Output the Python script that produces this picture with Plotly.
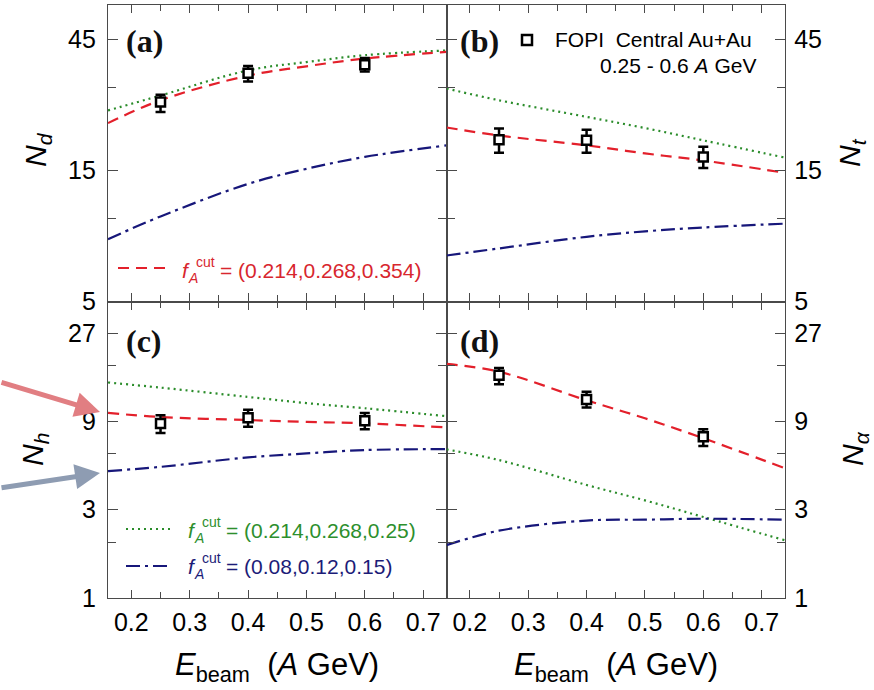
import plotly.graph_objects as go

# ---------------- data ----------------
E_curve = [0.16, 0.25, 0.4, 0.5, 0.6, 0.74]
E_data = [0.25, 0.4, 0.6]

# panel (a) deuterons
Nd_red = [22.3, 27.0, 33.2, 35.9, 38.3, 40.5]
Nd_green = [24.8, 28.1, 34.7, 37.2, 39.4, 41.0]
Nd_blue = [8.43, 10.2, 13.4, 15.2, 16.8, 18.5]
Nd_data = [26.6, 33.9, 36.4]
Nd_hi = [28.3, 36.0, 38.5]
Nd_lo = [24.5, 31.6, 34.4]

# panel (b) tritons
Nt_red = [21.5, 20.1, 18.5, 17.3, 16.3, 14.7]
Nt_green = [29.8, 27.0, 23.5, 21.4, 19.3, 16.7]
Nt_blue = [7.35, 7.8, 8.6, 9.0, 9.3, 9.6]
Nt_data = [19.4, 19.3, 16.8]
Nt_hi = [21.3, 21.1, 18.3]
Nt_lo = [17.4, 17.4, 15.3]

# panel (c) helions
Nh_red = [10.0, 9.5, 9.15, 8.95, 8.78, 8.35]
Nh_green = [14.6, 13.7, 12.2, 11.3, 10.6, 9.6]
Nh_blue = [4.85, 5.11, 5.75, 6.04, 6.30, 6.37]
Nh_data = [8.78, 9.42, 9.07]
Nh_hi = [9.72, 10.4, 10.0]
Nh_lo = [7.8, 8.42, 8.15]

# panel (d) alphas
Na_red = [18.4, 16.7, 11.7, 9.35, 7.3, 5.02]
Na_green = [6.35, 5.56, 4.08, 3.37, 2.74, 2.05]
Na_blue = [1.93, 2.31, 2.62, 2.65, 2.68, 2.65]
Na_data = [16.0, 11.8, 7.43]
Na_hi = [17.5, 13.0, 8.15]
Na_lo = [14.3, 10.7, 6.62]

x_ticks = [0.2, 0.3, 0.4, 0.5, 0.6, 0.7]
x_minor = [0.25, 0.35, 0.45, 0.55, 0.65]
top_ticks = [5, 15, 45]
top_minor = [10, 30]
bot_ticks = [1, 3, 9, 27]
bot_minor = [2, 6, 18]

labels = ["(a)", "(b)", "(c)", "(d)"]
leg_red = "= (0.214,0.268,0.354)"
leg_green = "= (0.214,0.268,0.25)"
leg_blue = "= (0.08,0.12,0.15)"

RED = "#e3202b"
GREEN = "#2a8c2a"
BLUE = "#17177a"
RED_T = "#d8262e"
GREEN_T = "#2d8f2d"
BLUE_T = "#1c1c78"

# ---------------- figure ----------------
W, H = 874, 690
L, R, T, B = 108, 89, 5, 92
PW, PH = W - L - R, H - T - B


def px(xp):
    return (xp - L) / PW


def py(yp):
    return (H - B - yp) / PH


fig = go.Figure()

panels = [
    ("x", "y", Nd_red, Nd_green, Nd_blue, Nd_data, Nd_hi, Nd_lo),
    ("x2", "y2", Nt_red, Nt_green, Nt_blue, Nt_data, Nt_hi, Nt_lo),
    ("x3", "y3", Nh_red, Nh_green, Nh_blue, Nh_data, Nh_hi, Nh_lo),
    ("x4", "y4", Na_red, Na_green, Na_blue, Na_data, Na_hi, Na_lo),
]

for xa, ya, r, g, b, d, hi, lo in panels:
    fig.add_trace(go.Scatter(x=E_curve, y=g, mode="lines", xaxis=xa, yaxis=ya,
                             line=dict(color=GREEN, width=2.2, dash="2px,4px", shape="spline")))
    fig.add_trace(go.Scatter(x=E_curve, y=b, mode="lines", xaxis=xa, yaxis=ya,
                             line=dict(color=BLUE, width=2.2, dash="14px,5px,3px,5px", shape="spline")))
    fig.add_trace(go.Scatter(x=E_curve, y=r, mode="lines", xaxis=xa, yaxis=ya,
                             line=dict(color=RED, width=2.2, dash="11px,7px", shape="spline")))
    fig.add_trace(go.Scatter(
        x=E_data, y=d, mode="markers", xaxis=xa, yaxis=ya,
        marker=dict(symbol="square", size=9, color="white", line=dict(color="black", width=2.5)),
        error_y=dict(type="data", symmetric=False,
                     array=[h - v for h, v in zip(hi, d)],
                     arrayminus=[v - l for v, l in zip(d, lo)],
                     color="black", thickness=2.5, width=5)))

FONT = "Liberation Sans, Arial, sans-serif"
axis_common = dict(showline=True, linecolor="#4a4a4a", linewidth=1.3, mirror="ticks",
                   ticks="inside", tickcolor="#4a4a4a", showgrid=False, zeroline=False,
                   tickfont=dict(family=FONT, size=25, color="black"))

xcommon = dict(axis_common, range=[0.16, 0.74], tickmode="array", tickvals=x_ticks,
               ticktext=[f"{v:.1f}" for v in x_ticks], ticklen=8,
               minor=dict(tickmode="array", tickvals=x_minor, ticklen=6, ticks="inside",
                          tickcolor="#4a4a4a"),
               ticklabelstandoff=2)

fig.update_layout(
    xaxis=dict(xcommon, domain=[0, 0.5], anchor="y", showticklabels=False),
    xaxis2=dict(xcommon, domain=[0.5, 1], anchor="y2", showticklabels=False),
    xaxis3=dict(xcommon, domain=[0, 0.5], anchor="y3"),
    xaxis4=dict(xcommon, domain=[0.5, 1], anchor="y4"),
)

ytop = dict(axis_common, type="log", range=[0.69897, 1.7782], tickmode="array",
            tickvals=top_ticks, ticktext=[str(v) for v in top_ticks], ticklen=10,
            minor=dict(tickmode="array", tickvals=top_minor, ticklen=8, ticks="inside",
                       tickcolor="#4a4a4a"))
ybot = dict(axis_common, type="log", range=[0, 1.602], tickmode="array",
            tickvals=bot_ticks, ticktext=[str(v) for v in bot_ticks], ticklen=10,
            minor=dict(tickmode="array", tickvals=bot_minor, ticklen=8, ticks="inside",
                       tickcolor="#4a4a4a"))

fig.update_layout(
    yaxis=dict(ytop, domain=[0.5, 1], anchor="x", ticklabelstandoff=6),
    yaxis2=dict(ytop, domain=[0.5, 1], anchor="x2", side="right", ticklabelstandoff=3),
    yaxis3=dict(ybot, domain=[0, 0.5], anchor="x3", ticklabelstandoff=6),
    yaxis4=dict(ybot, domain=[0, 0.5], anchor="x4", side="right", ticklabelstandoff=3),
)

ann = []
shapes = []

# panel labels
for lab, xr, yr, xf, yf in [(labels[0], "x domain", "y domain", 0.046, 0.878),
                            (labels[1], "x2 domain", "y2 domain", 0.034, 0.878),
                            (labels[2], "x3 domain", "y3 domain", 0.046, 0.868),
                            (labels[3], "x4 domain", "y4 domain", 0.034, 0.868)]:
    ann.append(dict(text=lab, xref=xr, yref=yr, x=xf, y=yf, xanchor="left", yanchor="middle",
                    showarrow=False,
                    font=dict(family="Liberation Serif, serif", size=32, color="#111", weight="bold")))

# axis titles
for txt, xp, yp in [("<i>N</i><sub><i>d</i></sub>", 37, 150),
                    ("<i>N</i><sub><i>h</i></sub>", 35, 450),
                    ("<i>N</i><sub><i>t</i></sub>", 852, 153),
                    ("<i>N</i><sub><i>α</i></sub>", 854, 449)]:
    ann.append(dict(text=txt, xref="paper", yref="paper", x=px(xp), y=py(yp), xanchor="center",
                    yanchor="middle", textangle=-90, showarrow=False,
                    font=dict(family=FONT, size=30, color="black")))

for xp in [277, 616]:
    ann.append(dict(text="<i>E</i><sub>beam</sub>\u00a0\u00a0(<i>A</i> GeV)", xref="paper", yref="paper",
                    x=px(xp), y=py(667), xanchor="center", yanchor="middle", showarrow=False,
                    font=dict(family=FONT, size=31, color="black")))

# FOPI legend
ann.append(dict(text="FOPI\u00a0\u00a0Central Au+Au", xref="paper", yref="paper", x=px(553), y=py(40),
                xanchor="left", yanchor="middle", showarrow=False,
                font=dict(family=FONT, size=21, color="black")))
ann.append(dict(text="0.25 - 0.6 <i>A</i> GeV", xref="paper", yref="paper", x=px(758), y=py(66),
                xanchor="right", yanchor="middle", showarrow=False,
                font=dict(family=FONT, size=21, color="black")))
shapes.append(dict(type="rect", xref="paper", yref="paper", xsizemode="pixel", ysizemode="pixel",
                   xanchor=px(527), yanchor=py(40), x0=-5, x1=5, y0=-5, y1=5,
                   line=dict(color="black", width=2.5), fillcolor="white"))


def fcut(x0, yc, color, rest):
    f = dict(family=FONT, size=21, color=color)
    s = dict(family=FONT, size=14, color=color)
    ann.append(dict(text="<i>f</i>", xref="paper", yref="paper", x=px(x0), y=py(yc),
                    xanchor="left", yanchor="middle", showarrow=False, font=f))
    ann.append(dict(text="<i>A</i>", xref="paper", yref="paper", x=px(x0 + 6), y=py(yc + 8),
                    xanchor="left", yanchor="middle", showarrow=False, font=s))
    ann.append(dict(text="cut", xref="paper", yref="paper", x=px(x0 + 14), y=py(yc - 8),
                    xanchor="left", yanchor="middle", showarrow=False, font=s))
    ann.append(dict(text=rest, xref="paper", yref="paper", x=px(x0 + 38), y=py(yc),
                    xanchor="left", yanchor="middle", showarrow=False, font=f))


fcut(180, 270, RED_T, leg_red)
fcut(186, 530, GREEN_T, leg_green)
fcut(186, 566, BLUE_T, leg_blue)

shapes.append(dict(type="line", xref="paper", yref="paper", x0=px(118), x1=px(168), y0=py(268), y1=py(268),
                   line=dict(color=RED, width=2.2, dash="11px,7px")))
shapes.append(dict(type="line", xref="paper", yref="paper", x0=px(126), x1=px(171), y0=py(529), y1=py(529),
                   line=dict(color=GREEN, width=2.2, dash="2px,4px")))
shapes.append(dict(type="line", xref="paper", yref="paper", x0=px(126), x1=px(171), y0=py(566), y1=py(566),
                   line=dict(color=BLUE, width=2.2, dash="14px,5px,3px,5px")))

# arrows at left
ann.append(dict(text="", xref="paper", yref="paper", x=px(100), y=py(412), ax=-100, ay=-30,
                showarrow=True, arrowhead=2, arrowsize=1, arrowwidth=5, arrowcolor="#e17e82",
                standoff=0))
ann.append(dict(text="", xref="paper", yref="paper", x=px(100), y=py(473), ax=-100, ay=15,
                showarrow=True, arrowhead=2, arrowsize=1, arrowwidth=5, arrowcolor="#8e9cb2",
                standoff=0))

fig.update_layout(width=W, height=H, margin=dict(l=L, r=R, t=T, b=B),
                  plot_bgcolor="white", paper_bgcolor="white", showlegend=False,
                  annotations=ann, shapes=shapes)

fig.write_html("out.html", config={"displayModeBar": False},
               post_script="document.body.style.margin='0';document.body.style.overflow='hidden';")
